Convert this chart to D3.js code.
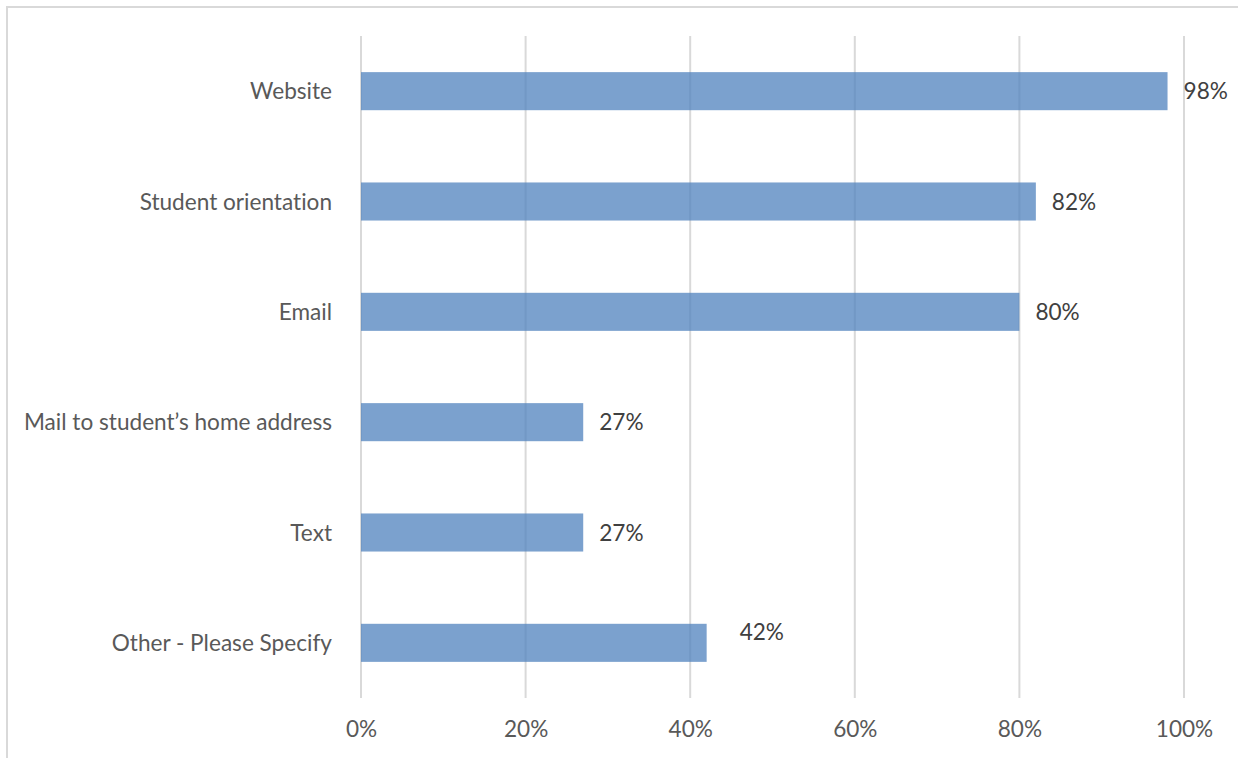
<!DOCTYPE html>
<html>
<head>
<meta charset="utf-8">
<script src="https://cdn.jsdelivr.net/npm/d3@7"></script>
<style>
  html, body { margin: 0; padding: 0; background: #fff; }
  svg { display: block; font-family: Lato, "Open Sans", sans-serif; font-variant-ligatures: none; }
</style>
</head>
<body>
<svg id="chart" width="1238" height="758"></svg>
<script>
// How students get information, share of respondents per channel
const categories = [
  "Website",
  "Student orientation",
  "Email",
  "Mail to student\u2019s home address",
  "Text",
  "Other - Please Specify"
];
const values = [98, 82, 80, 27, 27, 42];
const tickValues = [0, 20, 40, 60, 80, 100];

const W = 1238, H = 758;
const fontSize = 22.6;
const svg = d3.select("#chart");

// chart area frame
svg.append("rect")
  .attr("x", 7).attr("y", 7)
  .attr("width", W + 10).attr("height", H + 10)
  .attr("fill", "none")
  .attr("stroke", "#d9d9d9")
  .attr("stroke-width", 2);

const plot = { left: 361, right: 1184, top: 36, bottom: 698 };

const x = d3.scaleLinear().domain([0, 100]).range([plot.left, plot.right]);
const y = d3.scaleBand().domain(categories)
  .range([plot.top, plot.bottom])
  .paddingInner(0.655).paddingOuter(0.3275);

// vertical gridlines
svg.append("g")
  .selectAll("line")
  .data(tickValues)
  .join("line")
  .attr("x1", d => x(d)).attr("x2", d => x(d))
  .attr("y1", plot.top).attr("y2", plot.bottom)
  .attr("stroke", "#d9d9d9")
  .attr("stroke-width", 2);

// bars
svg.append("g")
  .selectAll("rect")
  .data(values)
  .join("rect")
  .attr("x", x(0))
  .attr("y", (d, i) => y(categories[i]))
  .attr("width", d => x(d) - x(0))
  .attr("height", y.bandwidth())
  .attr("fill", "#4f81bd")
  .attr("fill-opacity", 0.75);

// x-axis tick labels
const xAxis = d3.axisBottom(x)
  .tickValues(tickValues)
  .tickFormat(d => d + "%")
  .tickSize(0)
  .tickPadding(0);
const gx = svg.append("g")
  .attr("transform", `translate(0,${plot.bottom})`)
  .call(xAxis);
gx.select(".domain").remove();
gx.selectAll("text")
  .attr("y", 0)
  .attr("dy", 0)
  .attr("transform", "translate(0,39)")
  .attr("font-family", "Lato, 'Open Sans', sans-serif")
  .attr("font-size", fontSize)
  .attr("fill", "#595959");

// category labels
const yAxis = d3.axisLeft(y).tickSize(0).tickPadding(29);
const gy = svg.append("g")
  .attr("transform", `translate(${plot.left},0)`)
  .call(yAxis);
gy.select(".domain").remove();
gy.selectAll("text")
  .attr("dy", "0.36em")
  .attr("font-family", "Lato, 'Open Sans', sans-serif")
  .attr("font-size", fontSize)
  .attr("fill", "#595959");

// value labels; the "Other" label sits slightly up and to the right
const labelShift = { "Other - Please Specify": { dx: 17, dy: -11 } };
svg.append("g")
  .selectAll("text")
  .data(values)
  .join("text")
  .attr("x", (d, i) => x(d) + 16 + ((labelShift[categories[i]] || {}).dx || 0))
  .attr("y", (d, i) => y(categories[i]) + y.bandwidth() / 2 + ((labelShift[categories[i]] || {}).dy || 0))
  .attr("dy", "0.36em")
  .attr("font-size", fontSize)
  .attr("fill", "#404040")
  .text(d => d + "%");
</script>
</body>
</html>
